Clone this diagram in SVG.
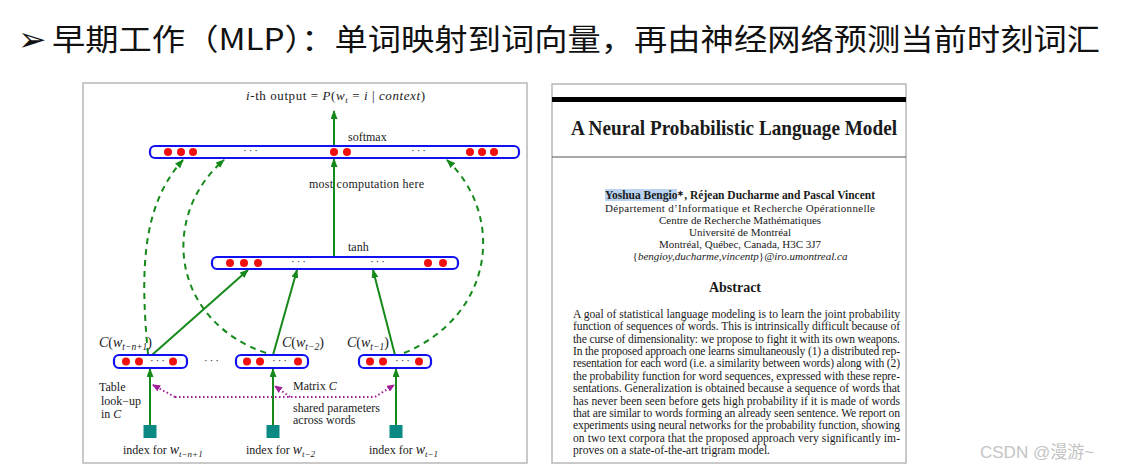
<svg xmlns="http://www.w3.org/2000/svg" width="1123" height="470" viewBox="0 0 1123 470">
<style>
.ser{font-family:"Liberation Serif","Times New Roman",serif;fill:#1a1a1a}
.lbl{font-size:12px}
.it{font-style:italic}
.bar{fill:#fff;stroke:#1010f0;stroke-width:2.2}
.dot{fill:#f01010}
.ell{font-size:11px;letter-spacing:2px}
.sol{stroke:#15891a;stroke-width:2;fill:none}
.dash{stroke:#15891a;stroke-width:2;fill:none;stroke-dasharray:6 5}
.pur{stroke:#a0209a;stroke-width:2;fill:none;stroke-dasharray:1.5 2.5}
.idx{fill:#0a8a82}
.abs{font-size:11.6px}
.aff{font-size:11px;text-anchor:middle}
</style>
<defs>
<marker id="ga" markerUnits="userSpaceOnUse" markerWidth="9" markerHeight="7" refX="8" refY="3.5" orient="auto"><path d="M0,0 L9,3.5 L0,7 z" fill="#15891a"/></marker>
<marker id="pa" markerUnits="userSpaceOnUse" markerWidth="8" markerHeight="7" refX="7" refY="3.5" orient="auto"><path d="M0,0 L8,3.5 L0,7 z" fill="#a0209a"/></marker>
</defs>
<rect width="1123" height="470" fill="#fff"/>

<g id="header">
<text x="18" y="51" font-family="DejaVu Sans,sans-serif" font-size="34" fill="#111">➢</text>
<text x="52" y="50" font-family="'Noto Sans CJK SC',sans-serif" font-size="30" fill="#111" textLength="1048" lengthAdjust="spacingAndGlyphs">早期工作（MLP）：单词映射到词向量，再由神经网络预测当前时刻词汇</text>
</g>

<g id="panel-left">
<rect x="83" y="83" width="444" height="380" fill="#fff" stroke="#b8b8b8" stroke-width="1.5"/>
</g>

<g id="output-label">
<text class="ser" x="246" y="100" font-size="13" textLength="179"><tspan class="it">i</tspan>-th output = <tspan class="it">P</tspan>(<tspan class="it">w</tspan><tspan class="it" font-size="9" dy="3">t</tspan><tspan dy="-3"> = </tspan><tspan class="it">i</tspan> | <tspan class="it">context</tspan>)</text>
</g>

<g id="connectors">
<line class="sol" x1="334" y1="146" x2="334" y2="111" marker-end="url(#ga)"/>
<line class="sol" x1="334" y1="257" x2="334" y2="159" marker-end="url(#ga)"/>
<line class="sol" x1="152" y1="355" x2="248" y2="270" marker-end="url(#ga)"/>
<line class="sol" x1="273" y1="355" x2="297" y2="270" marker-end="url(#ga)"/>
<line class="sol" x1="395" y1="355" x2="373" y2="270" marker-end="url(#ga)"/>
<path class="dash" d="M148,354 C140,270 142,205 183,160" marker-end="url(#ga)"/>
<path class="dash" d="M266,353 C170,320 160,215 224,160" marker-end="url(#ga)"/>
<path class="dash" d="M404,353 C495,315 505,215 447,160" marker-end="url(#ga)"/>
<line class="sol" x1="150" y1="425" x2="150" y2="369" marker-end="url(#ga)"/>
<line class="sol" x1="273" y1="425" x2="273" y2="369" marker-end="url(#ga)"/>
<line class="sol" x1="396" y1="425" x2="396" y2="369" marker-end="url(#ga)"/>
<polyline class="pur" points="175,397 375,397 394,385" marker-end="url(#pa)"/>
<polyline class="pur" points="175,397 153,385" marker-end="url(#pa)"/>
<polyline class="pur" points="290,397 275,386" marker-end="url(#pa)"/>
</g>

<g id="softmax-layer">
<rect class="bar" x="150" y="146" width="369" height="12" rx="5"/>
<circle class="dot" cx="168" cy="152" r="4"/><circle class="dot" cx="181" cy="152" r="4"/><circle class="dot" cx="193" cy="152" r="4"/>
<circle class="dot" cx="334" cy="152" r="4"/><circle class="dot" cx="347" cy="152" r="4"/>
<circle class="dot" cx="470" cy="152" r="4"/><circle class="dot" cx="482" cy="152" r="4"/><circle class="dot" cx="494" cy="152" r="4"/>
<text class="ser ell" x="243" y="154">···</text>
<text class="ser ell" x="411" y="154">···</text>
<text class="ser lbl" x="348" y="141">softmax</text>
<text class="ser lbl" x="309" y="188" textLength="115">most  computation here</text>
</g>

<g id="tanh-layer">
<rect class="bar" x="212" y="257" width="246" height="12" rx="5"/>
<circle class="dot" cx="230" cy="263" r="4"/><circle class="dot" cx="244" cy="263" r="4"/><circle class="dot" cx="258" cy="263" r="4"/>
<circle class="dot" cx="428" cy="263" r="4"/><circle class="dot" cx="443" cy="263" r="4"/>
<text class="ser ell" x="291" y="265">···</text>
<text class="ser ell" x="370" y="265">···</text>
<text class="ser lbl" x="348" y="251">tanh</text>
</g>

<g id="embed-1">
<rect class="bar" x="114" y="355" width="73" height="13" rx="5"/>
<circle class="dot" cx="126" cy="361.5" r="4"/><circle class="dot" cx="139" cy="361.5" r="4"/><circle class="dot" cx="173" cy="361.5" r="4"/>
<text class="ser ell" x="150" y="364">···</text>
<text class="ser" x="99" y="347" font-size="14"><tspan class="it">C</tspan>(<tspan class="it">w</tspan><tspan class="it" font-size="9.5" dy="3">t−n+1</tspan><tspan dy="-3">)</tspan></text>
</g>
<text class="ser ell" x="204" y="364">···</text>

<g id="embed-2">
<rect class="bar" x="236" y="355" width="72" height="13" rx="5"/>
<circle class="dot" cx="247" cy="361.5" r="4"/><circle class="dot" cx="260" cy="361.5" r="4"/><circle class="dot" cx="298" cy="361.5" r="4"/>
<text class="ser ell" x="272" y="364">···</text>
<text class="ser" x="282" y="347" font-size="14"><tspan class="it">C</tspan>(<tspan class="it">w</tspan><tspan class="it" font-size="9.5" dy="3">t−2</tspan><tspan dy="-3">)</tspan></text>
</g>

<g id="embed-3">
<rect class="bar" x="359" y="355" width="72" height="13" rx="5"/>
<circle class="dot" cx="370" cy="361.5" r="4"/><circle class="dot" cx="383" cy="361.5" r="4"/><circle class="dot" cx="419" cy="361.5" r="4"/>
<text class="ser ell" x="395" y="364">···</text>
<text class="ser" x="347" y="347" font-size="14"><tspan class="it">C</tspan>(<tspan class="it">w</tspan><tspan class="it" font-size="9.5" dy="3">t−1</tspan><tspan dy="-3">)</tspan></text>
</g>

<g id="lookup-labels">
<text class="ser lbl" x="99" y="391">Table</text>
<text class="ser lbl" x="101" y="405">look−up</text>
<text class="ser lbl" x="101" y="418">in <tspan class="it">C</tspan></text>
<text class="ser lbl" x="293" y="390">Matrix <tspan class="it">C</tspan></text>
<text class="ser lbl" x="293" y="412">shared parameters</text>
<text class="ser lbl" x="293" y="424">across words</text>
</g>

<g id="index-1">
<rect class="idx" x="143.5" y="425" width="13" height="13"/>
<text class="ser lbl" x="123" y="454">index for <tspan class="it" font-size="14">w</tspan><tspan class="it" font-size="9" dy="3">t−n+1</tspan></text>
</g>
<g id="index-2">
<rect class="idx" x="266.5" y="425" width="13" height="13"/>
<text class="ser lbl" x="246" y="454">index for <tspan class="it" font-size="14">w</tspan><tspan class="it" font-size="9" dy="3">t−2</tspan></text>
</g>
<g id="index-3">
<rect class="idx" x="389.5" y="425" width="13" height="13"/>
<text class="ser lbl" x="369" y="454">index for <tspan class="it" font-size="14">w</tspan><tspan class="it" font-size="9" dy="3">t−1</tspan></text>
</g>

<g id="panel-right">
<rect x="552" y="84" width="354" height="379" fill="#fff" stroke="#b8b8b8" stroke-width="1.5"/>
<rect x="552" y="97" width="354" height="5" fill="#000"/>
<line x1="552" y1="157" x2="906" y2="157" stroke="#555" stroke-width="1"/>
<text class="ser" x="571" y="135" font-size="21" font-weight="bold" textLength="326" lengthAdjust="spacingAndGlyphs">A Neural Probabilistic Language Model</text>
<rect x="605" y="189" width="72" height="12" fill="#b9d3f0"/>
<text class="ser" x="740" y="199" font-size="11.5" font-weight="bold" text-anchor="middle" textLength="270">Yoshua Bengio<tspan font-size="8" dy="-3">∗</tspan><tspan dy="3">, Réjean Ducharme and Pascal Vincent</tspan></text>
<text class="ser aff" x="740" y="212" textLength="270">Département d’Informatique et Recherche Opérationnelle</text>
<text class="ser aff" x="740" y="224">Centre de Recherche Mathématiques</text>
<text class="ser aff" x="740" y="236">Université de Montréal</text>
<text class="ser aff" x="740" y="248">Montréal, Québec, Canada, H3C 3J7</text>
<text class="ser aff" x="740" y="260">{<tspan class="it">bengioy,ducharme,vincentp</tspan>}<tspan class="it">@iro.umontreal.ca</tspan></text>
<text class="ser" x="735" y="292" font-size="14" font-weight="bold" text-anchor="middle">Abstract</text>
<text class="ser abs" x="573" y="318" textLength="327">A goal of statistical language modeling is to learn the joint probability</text>
<text class="ser abs" x="573" y="330.4" textLength="327">function of sequences of words. This is intrinsically difficult because of</text>
<text class="ser abs" x="573" y="342.7" textLength="327">the curse of dimensionality: we propose to fight it with its own weapons.</text>
<text class="ser abs" x="573" y="355.1" textLength="327">In the proposed approach one learns simultaneously (1) a distributed rep-</text>
<text class="ser abs" x="573" y="367.4" textLength="327">resentation for each word (i.e. a similarity between words) along with (2)</text>
<text class="ser abs" x="573" y="379.8" textLength="327">the probability function for word sequences, expressed with these repre-</text>
<text class="ser abs" x="573" y="392.2" textLength="327">sentations. Generalization is obtained because a sequence of words that</text>
<text class="ser abs" x="573" y="404.5" textLength="327">has never been seen before gets high probability if it is made of words</text>
<text class="ser abs" x="573" y="416.9" textLength="327">that are similar to words forming an already seen sentence. We report on</text>
<text class="ser abs" x="573" y="429.2" textLength="327">experiments using neural networks for the probability function, showing</text>
<text class="ser abs" x="573" y="441.6" textLength="327">on two text corpora that the proposed approach very significantly im-</text>
<text class="ser abs" x="573" y="454">proves on a state-of-the-art trigram model.</text>
</g>

<g id="watermark">
<text x="980" y="458" font-family="'Liberation Sans','Noto Sans CJK SC',sans-serif" font-size="17" fill="#c4c4c4">CSDN @漫游~</text>
</g>
</svg>
